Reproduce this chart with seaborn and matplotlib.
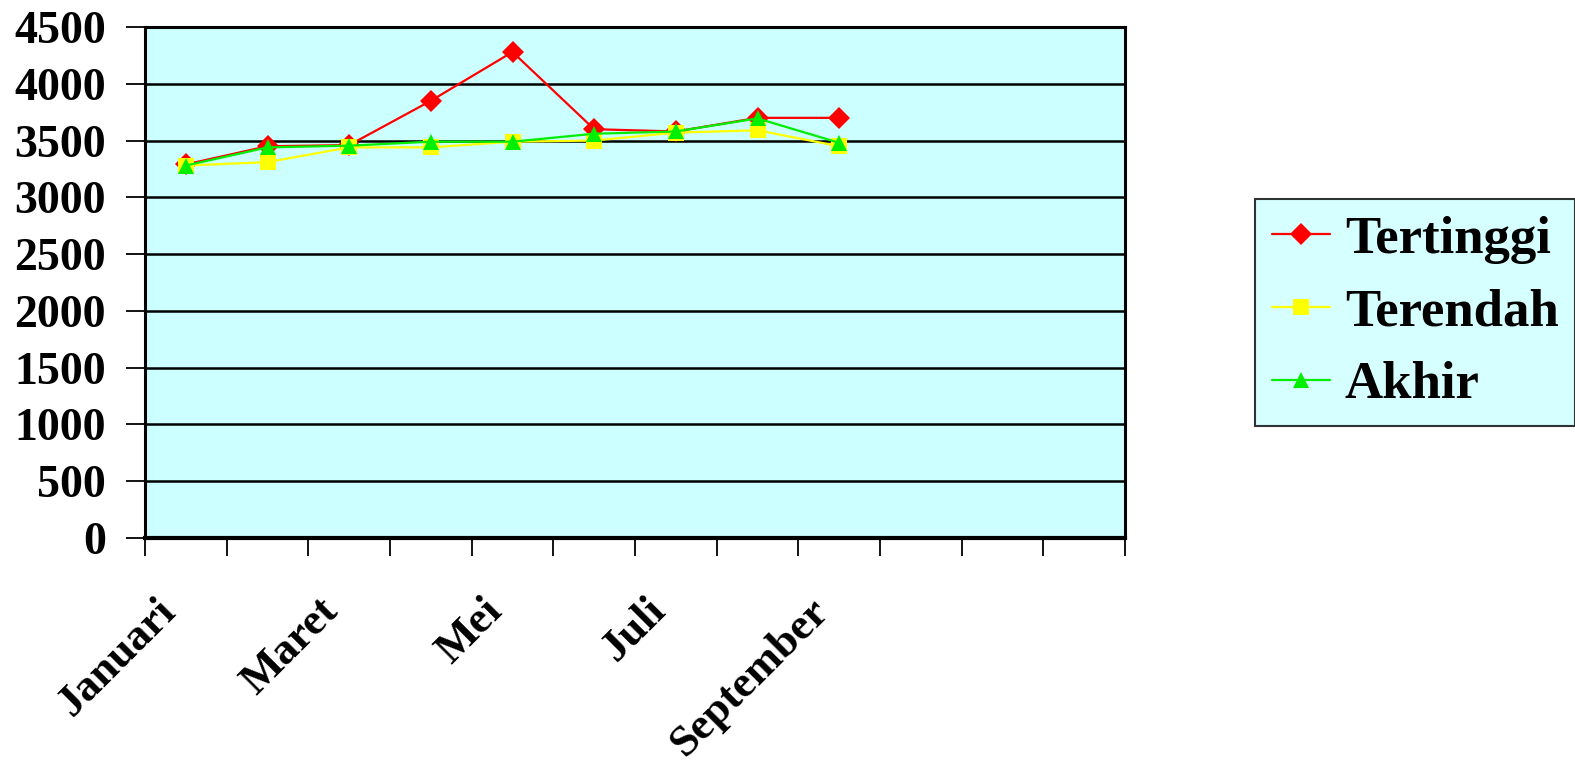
import matplotlib
matplotlib.use("Agg")
import matplotlib.pyplot as plt
import seaborn as sns
import pandas as pd

# data
months = ["Januari", "Februari", "Maret", "April", "Mei", "Juni", "Juli",
          "Agustus", "September", "Oktober", "November", "Desember"]
tertinggi = [3290, 3450, 3460, 3850, 4280, 3600, 3580, 3700, 3700]
terendah = [3280, 3310, 3440, 3440, 3490, 3500, 3570, 3590, 3450]
akhir = [3280, 3440, 3455, 3490, 3490, 3560, 3580, 3695, 3480]
shown_labels = ["Januari", "Maret", "Mei", "Juli", "September"]

series = {"Tertinggi": tertinggi, "Terendah": terendah, "Akhir": akhir}
rows = []
for name, vals in series.items():
    for i, v in enumerate(vals):
        rows.append({"idx": i, "bulan": months[i], "nilai": v, "seri": name})
df = pd.DataFrame(rows)

sns.set_theme(style="white")
plt.rcParams["font.family"] = ["Liberation Serif", "DejaVu Serif"]
plt.rcParams["font.weight"] = "bold"
plt.rcParams["text.color"] = "black"
plt.rcParams["xtick.color"] = "black"
plt.rcParams["ytick.color"] = "black"

fig = plt.figure(figsize=(15.75, 7.71), dpi=100)
ax = fig.add_axes([145 / 1575, 1 - 538 / 771, 980 / 1575, 511 / 771])
ax.set_facecolor("#CCFFFF")

palette = {"Tertinggi": "#FF0000", "Terendah": "#FFFF00", "Akhir": "#00EE00"}
markers = {"Tertinggi": "D", "Terendah": "s", "Akhir": "^"}
sns.lineplot(data=df, x="idx", y="nilai", hue="seri", style="seri",
             palette=palette, markers=markers, dashes=False, markersize=11,
             linewidth=1.6, markeredgewidth=0, ax=ax, zorder=3)

ax.set_xlim(-0.5, 11.5)
ax.set_ylim(0, 4500)
ax.set_yticks(range(0, 4501, 500))
ax.yaxis.grid(True, color="black", linewidth=1.8)
ax.set_axisbelow(True)

# rotated month labels sit a bit left of their category centre
label_pos = [months.index(m) - 0.38 for m in shown_labels]
ax.set_xticks(label_pos)
ax.set_xticklabels(shown_labels, rotation=45, ha="right", rotation_mode="anchor",
                   fontsize=32, fontweight="bold")
ax.set_xticks([i - 0.5 for i in range(13)], minor=True)
ax.tick_params(axis="x", which="major", length=0, pad=38)
ax.tick_params(axis="x", which="minor", length=13, width=1.3, color="black",
               direction="out", bottom=True)
ax.tick_params(axis="y", length=14, width=1.3, color="black", direction="out",
               left=True, labelsize=33, pad=14)
for lab in ax.get_yticklabels():
    lab.set_fontweight("bold")

for side, sp in ax.spines.items():
    sp.set_color("black")
    sp.set_linewidth(2.2)
ax.spines["bottom"].set_linewidth(3)

ax.set_xlabel("")
ax.set_ylabel("")

handles, labels = ax.get_legend_handles_labels()
leg = ax.legend(handles, labels, loc="center left", bbox_to_anchor=(1110 / 980, 0.441),
                borderaxespad=0, frameon=True, fancybox=False, facecolor="#CCFFFF",
                edgecolor="black",
                prop={"family": "Liberation Serif", "weight": "bold", "size": 38},
                handlelength=1.1, borderpad=0.32, labelspacing=0.47, handletextpad=0.28)
leg.get_frame().set_linewidth(1.5)

fig.savefig("out.png", dpi=100)
